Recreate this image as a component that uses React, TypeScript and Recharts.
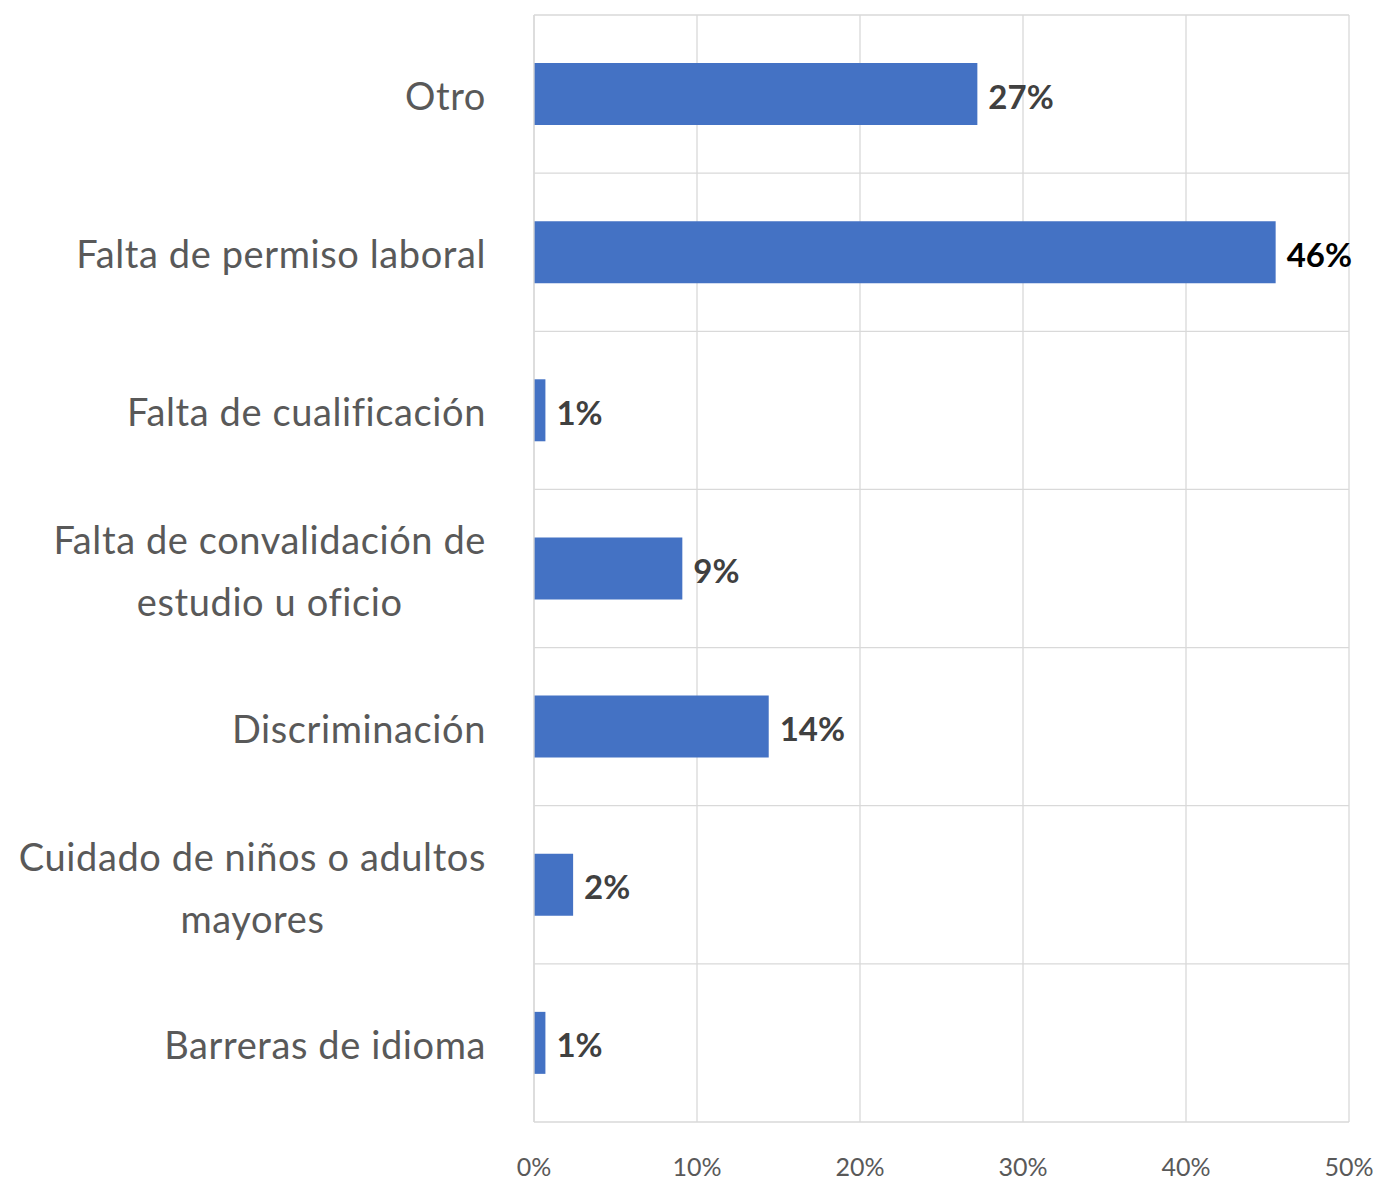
import { useLayoutEffect, useRef, useState } from "react";
import {
  BarChart,
  Bar,
  XAxis,
  YAxis,
  CartesianGrid,
  LabelList,
} from "recharts";

const categories = [
  "Otro",
  "Falta de permiso laboral",
  "Falta de cualificación",
  "Falta de convalidación de\nestudio u oficio",
  "Discriminación",
  "Cuidado de niños o adultos\nmayores",
  "Barreras de idioma",
];
const shares = [27.2, 45.5, 0.7, 9.1, 14.4, 2.4, 0.7];
const xTicks = [0, 10, 20, 30, 40, 50];

const chartData = categories.map((name, i) => ({ name, share: shares[i] }));
const maxShare = Math.max(...shares);

const FONT = "Lato, 'Open Sans', sans-serif";
const BAR = "#4472C4";
const GRID = "#d9d9d9";

function CategoryTick({ x, y, payload }: any) {
  const lines: string[] = String(payload.value).split("\n");
  const ref = useRef<SVGTextElement>(null);
  const [w, setW] = useState(0);

  useLayoutEffect(() => {
    if (!ref.current) return;
    let max = 0;
    ref.current.querySelectorAll("tspan").forEach((t) => {
      max = Math.max(max, (t as SVGTextContentElement).getComputedTextLength());
    });
    setW(max);
  }, [payload.value]);

  const lineH = 62;
  const startY = y - ((lines.length - 1) * lineH) / 2 + (lines.length > 1 ? 1 : 0);
  const cx = x - w / 2;

  return (
    <text
      ref={ref}
      textAnchor="middle"
      fill="#595959"
      fontSize={38}
      letterSpacing={0.6}
      fontFamily={FONT}
    >
      {lines.map((l, i) => (
        <tspan key={i} x={cx} y={startY + i * lineH} dy="0.42em">
          {l}
        </tspan>
      ))}
    </text>
  );
}

function ValueLabel({ x, y, width, height, value }: any) {
  return (
    <text
      x={Number(x) + Number(width) + 11}
      y={Number(y) + Number(height) / 2}
      dy="0.44em"
      fill={value === maxShare ? "#000000" : "#404040"}
      fontSize={33}
      fontWeight={700}
      fontFamily={FONT}
    >
      {`${Math.round(value)}%`}
    </text>
  );
}

export default function App() {
  return (
    <div style={{ position: "absolute", left: 0, top: 0, background: "#fff" }}>
      <BarChart
        width={1379}
        height={1184}
        data={chartData}
        layout="vertical"
        margin={{ top: 15, right: 30, bottom: 0, left: 0 }}
      >
        <CartesianGrid
          stroke={GRID}
          strokeWidth={1.3}
          horizontalCoordinatesGenerator={({ offset }: any) =>
            Array.from(
              { length: categories.length + 1 },
              (_, i) => offset.top + (i * offset.height) / categories.length
            )
          }
        />
        <XAxis
          type="number"
          domain={[0, 50]}
          ticks={xTicks}
          tickFormatter={(v: number) => `${v}%`}
          axisLine={false}
          tickLine={false}
          tickMargin={30}
          height={62}
          interval={0}
          tick={{ fill: "#595959", fontSize: 25, fontFamily: FONT }}
        />
        <YAxis
          type="category"
          dataKey="name"
          width={534}
          axisLine={{ stroke: GRID, strokeWidth: 1.3 }}
          tickLine={false}
          tickMargin={42}
          interval={0}
          tick={<CategoryTick />}
        />
        <Bar dataKey="share" fill={BAR} barSize={62} isAnimationActive={false}>
          <LabelList dataKey="share" content={<ValueLabel />} />
        </Bar>
      </BarChart>
    </div>
  );
}
